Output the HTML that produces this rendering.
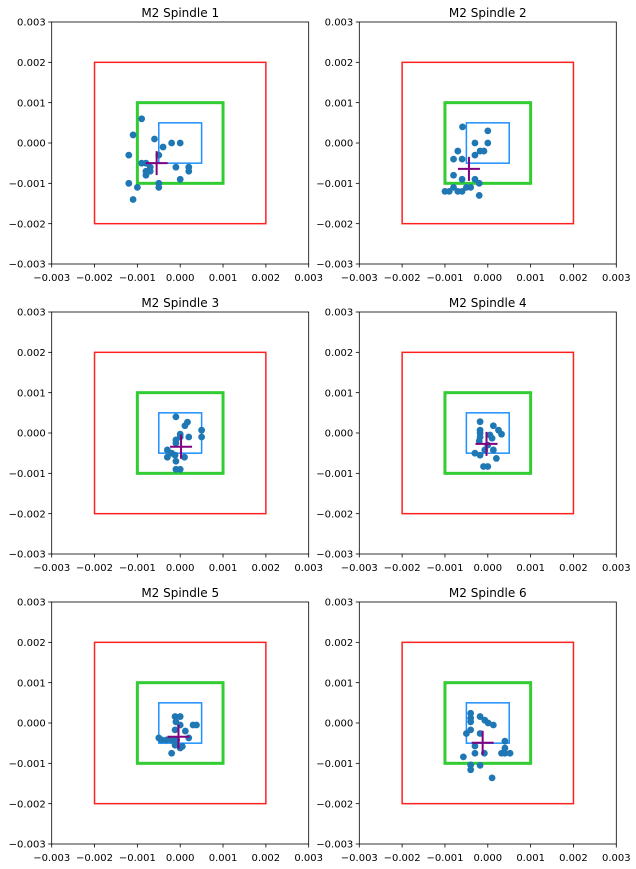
<!DOCTYPE html>
<html><head><meta charset="utf-8"><style>
html,body{margin:0;padding:0;background:#fff;}
svg{display:block;font-family:"DejaVu Sans","Liberation Sans",sans-serif;}
</style></head><body>
<svg id="s" width="636" height="869" viewBox="0 0 636 869" xmlns="http://www.w3.org/2000/svg"></svg>
<script>
const P=[
 {t:"M2 Spindle 1",x:51.7,y:22,c:[-0.55,-0.5],p:[[-0.9,0.6],[-1.1,0.2],[-0.6,0.1],[-0.4,-0.1],[-0.2,0],[0,0],[-1.2,-0.3],[-0.5,-0.3],[-0.9,-0.5],[-0.8,-0.5],[-0.7,-0.6],[-0.8,-0.7],[-0.7,-0.7],[-0.8,-0.8],[-0.1,-0.6],[0.2,-0.6],[0.2,-0.7],[0,-0.9],[-1.2,-1],[-1,-1.1],[-0.5,-1],[-0.5,-1.1],[-1.1,-1.4]]},
 {t:"M2 Spindle 2",x:359.3,y:22,c:[-0.44,-0.64],p:[[-0.59,0.4],[0,0.3],[-0.3,0],[0,0],[-0.7,-0.2],[-0.3,-0.3],[-0.18,-0.2],[-0.09,-0.2],[-0.8,-0.4],[-0.6,-0.4],[-0.8,-0.8],[-0.6,-0.9],[-0.3,-0.9],[-0.2,-1.0],[-0.9,-1.2],[-0.8,-1.1],[-0.7,-1.2],[-0.6,-1.2],[-0.5,-1.1],[-0.4,-1.1],[-1.0,-1.2],[-0.2,-1.3]]},
 {t:"M2 Spindle 3",x:51.7,y:312,c:[0.02,-0.34],p:[[-0.1,0.4],[0.17,0.27],[0.11,0.18],[0.5,0.07],[0.5,-0.1],[0,-0.03],[0.2,-0.1],[-0.1,-0.17],[0,-0.1],[-0.1,-0.25],[-0.3,-0.42],[-0.2,-0.5],[-0.3,-0.6],[-0.12,-0.55],[0.1,-0.6],[-0.1,-0.7],[-0.1,-0.9],[0,-0.9]]},
 {t:"M2 Spindle 4",x:359.3,y:312,c:[-0.03,-0.27],p:[[-0.18,0.28],[-0.18,0.07],[-0.18,0],[0.13,0.18],[0.25,0.07],[0.32,-0.03],[-0.2,-0.2],[0.1,-0.13],[0,-0.3],[0.13,-0.42],[-0.3,-0.5],[-0.18,-0.55],[0.2,-0.63],[-0.07,-0.42],[-0.1,-0.83],[0,-0.83],[-0.18,-0.1],[0.05,-0.05]]},
 {t:"M2 Spindle 5",x:51.7,y:602,c:[-0.04,-0.34],p:[[-0.12,0.16],[0,0.16],[-0.1,0.03],[0,-0.05],[0.3,-0.05],[0.38,-0.05],[-0.12,-0.17],[0.12,-0.2],[-0.43,-0.42],[-0.32,-0.42],[-0.2,-0.42],[-0.08,-0.42],[0.2,-0.37],[-0.5,-0.37],[-0.12,-0.55],[0,-0.62],[0.05,-0.58],[-0.2,-0.75]]},
 {t:"M2 Spindle 6",x:359.3,y:602,c:[-0.12,-0.49],p:[[-0.4,0.24],[-0.4,0.12],[-0.4,0.03],[-0.18,0.16],[-0.07,0.07],[0.01,0],[0.13,-0.05],[-0.4,-0.17],[-0.5,-0.26],[-0.18,-0.26],[0.4,-0.45],[0.32,-0.75],[0.4,-0.75],[0.52,-0.75],[0.4,-0.62],[-0.3,-0.57],[-0.3,-0.75],[-0.08,-0.75],[-0.57,-0.84],[-0.4,-1.04],[-0.18,-1.05],[-0.4,-1.16],[0.1,-1.36]]}
];
const W=257,H=242;let o="";
const lab=v=>(v<0?"\u2212":"")+Math.abs(v).toFixed(3);
for(const q of P){
 const X=v=>q.x+(v+3)/6*W, Y=v=>q.y+(3-v)/6*H;
 const rect=(a,col,lw)=>`<rect x="${X(-a)}" y="${Y(a)}" width="${X(a)-X(-a)}" height="${Y(-a)-Y(a)}" fill="none" stroke="${col}" stroke-width="${lw}"/>`;
 o+=`<text x="${q.x+W/2}" y="${q.y-5}" font-size="12" text-anchor="middle" fill="#000">${q.t}</text>`;
 o+=rect(2,"#ff2020",1.5)+rect(1,"#32cd32",3)+rect(0.5,"#1e90ff",1.5);
 for(const [a,b] of q.p) o+=`<circle cx="${X(a)}" cy="${Y(b)}" r="3.4" fill="#1f77b4"/>`;
 const cx=X(q.c[0]),cy=Y(q.c[1]);
 o+=`<path d="M${cx-11} ${cy}H${cx+11}M${cx} ${cy-12}V${cy+12}" stroke="#800080" stroke-width="2"/>`;
 o+=`<rect x="${q.x}" y="${q.y}" width="${W}" height="${H}" fill="none" stroke="#000" stroke-width="0.8"/>`;
 for(let v=-3;v<=3;v++){
  const tx=X(v),ty=Y(v);
  o+=`<line x1="${tx}" y1="${q.y+H}" x2="${tx}" y2="${q.y+H+3.5}" stroke="#000" stroke-width="0.8"/>`;
  o+=`<text x="${tx}" y="${q.y+H+17}" font-size="10" text-anchor="middle">${lab(v/1000)}</text>`;
  o+=`<line x1="${q.x-3.5}" y1="${ty}" x2="${q.x}" y2="${ty}" stroke="#000" stroke-width="0.8"/>`;
  o+=`<text x="${q.x-6}" y="${ty+3.6}" font-size="10" text-anchor="end">${lab(v/1000)}</text>`;
 }
}
document.getElementById("s").innerHTML=o;
</script>
</body></html>
